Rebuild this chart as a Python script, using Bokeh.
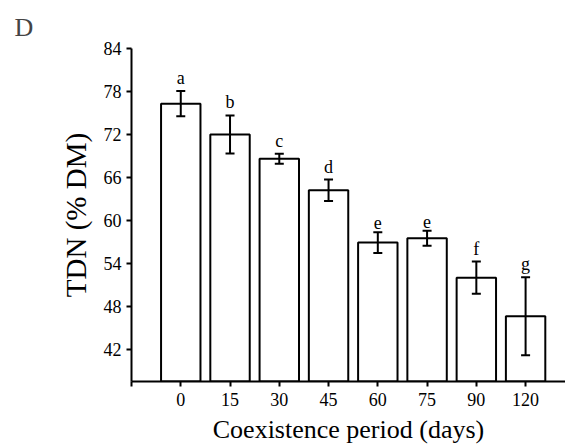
from bokeh.plotting import figure
from bokeh.models import ColumnDataSource, Whisker, TeeHead, FixedTicker, Range1d
from bokeh.core.properties import value
from bokeh.embed import file_html
from bokeh.resources import INLINE

days = ["0", "15", "30", "45", "60", "75", "90", "120"]
tdn = [76.3, 72.0, 68.6, 64.2, 56.9, 57.5, 52.0, 46.6]
sd = [1.75, 2.65, 0.7, 1.5, 1.45, 1.05, 2.25, 5.45]
letters = ["a", "b", "c", "d", "e", "e", "f", "g"]
y_ticks = [42, 48, 54, 60, 66, 72, 78, 84]

FONT = "Liberation Serif"
Y0 = 37.5

pos = list(range(len(days)))
src = ColumnDataSource(dict(
    x=pos, top=tdn,
    upper=[m + s for m, s in zip(tdn, sd)],
    lower=[m - s for m, s in zip(tdn, sd)],
    lab=letters,
))

p = figure(width=565, height=447, output_backend="svg", toolbar_location=None,
           x_range=Range1d(-1, 7.81), y_range=Range1d(Y0, 84),
           min_border_left=131, min_border_right=0, min_border_top=48,
           min_border_bottom=66)

p.vbar(x="x", width=0.8, bottom=Y0, top="top", source=src,
       fill_color="white", line_color="black", line_width=2)

w = Whisker(base="x", upper="upper", lower="lower", source=src,
            line_color="black", line_width=2, level="overlay",
            upper_head=TeeHead(size=9, line_color="black", line_width=2),
            lower_head=TeeHead(size=9, line_color="black", line_width=2))
p.add_layout(w)

p.text(x="x", y="upper", text="lab", source=src, text_align="center",
       text_baseline="bottom", y_offset=-3, text_font=value(FONT),
       text_font_size="18px", text_color="black")

p.xgrid.visible = False
p.ygrid.visible = False
p.outline_line_color = None

# x axis
xa = p.xaxis[0]
xa.ticker = FixedTicker(ticks=[-1] + pos)
overrides = {i: d for i, d in enumerate(days)}
overrides[-1] = ""
xa.major_label_overrides = overrides
xa.axis_label = "Coexistence period (days)"
# y axis
ya = p.yaxis[0]
ya.ticker = FixedTicker(ticks=y_ticks)
ya.axis_label = "TDN (% DM)"

for ax in (xa, ya):
    ax.axis_line_width = 2
    ax.axis_line_color = "black"
    ax.major_tick_line_width = 2
    ax.major_tick_line_color = "black"
    ax.major_tick_out = 5
    ax.major_tick_in = 0
    ax.minor_tick_line_color = None
    ax.major_label_text_font = FONT
    ax.major_label_text_font_size = "18px"
    ax.major_label_text_color = "black"
    ax.axis_label_text_font = FONT
    ax.axis_label_text_font_style = "normal"
    ax.axis_label_text_color = "black"

xa.axis_label_text_font_size = "26px"
ya.axis_label_text_font_size = "29px"
xa.major_label_standoff = 6
xa.axis_label_standoff = 6
ya.major_label_standoff = 5
ya.axis_label_standoff = 9
ya.major_label_orientation = "horizontal"

p.title.text = "D"
p.title.text_font = FONT
p.title.text_font_size = "26px"
p.title.text_font_style = "normal"
p.title.align = "left"
p.title.offset = -117
p.title.standoff = 13

open("out.html", "w").write(file_html(p, INLINE))
